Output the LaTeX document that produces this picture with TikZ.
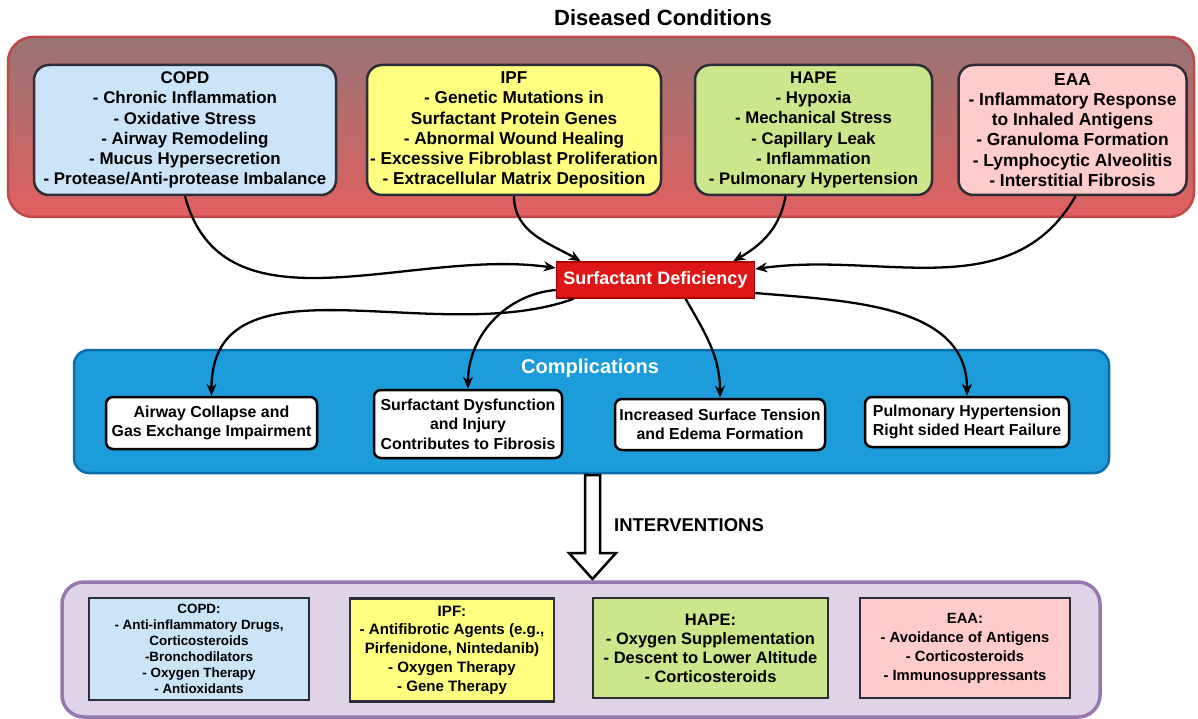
\documentclass[tikz,border=0pt]{standalone}
\usepackage{fontspec}
\setmainfont{Liberation Sans}
\usetikzlibrary{arrows.meta}

\definecolor{copdblue}{RGB}{204,228,247}
\definecolor{ipfyellow}{RGB}{255,255,128}
\definecolor{hapegreen}{RGB}{204,230,140}
\definecolor{eaapink}{RGB}{255,204,204}
\definecolor{boxedge}{RGB}{45,45,55}
\definecolor{distop}{RGB}{152,116,116}
\definecolor{disbottom}{RGB}{226,96,96}
\definecolor{disedge}{RGB}{190,72,72}
\definecolor{sdred}{RGB}{222,22,22}
\definecolor{sdedge}{RGB}{165,0,0}
\definecolor{compblue}{RGB}{28,156,218}
\definecolor{compedge}{RGB}{12,108,168}
\definecolor{intfill}{RGB}{222,211,231}
\definecolor{intedge}{RGB}{150,120,175}

\newcommand{\bfsize}[2]{\fontsize{#1}{#2}\selectfont\bfseries}

\begin{document}
\begin{tikzpicture}[x=1pt,y=-1pt]
\tikzset{
	disbox/.style={draw=boxedge,
		line width=2.5pt,
		rounded corners=15pt,
		align=center,
		inner sep=1pt,
		minimum height=130
	},
	compbox/.style={draw=black, fill=white, line width=2.5pt, rounded corners=7pt,
		align=center, inner sep=1pt, font=\bfsize{15.9}{19.5}},
	treatbox/.style={draw=boxedge, line width=2.5pt, align=center, inner sep=1pt},
	link/.style={-{Stealth[length=12pt,width=10pt]}, line width=2.3pt}
}
\useasboundingbox (0,0) rectangle (1198,719);

% diseased conditions
\node[font=\bfsize{22}{24}] (distitle) at (663,18) {Diseased Conditions};
\node[draw=disedge, line width=2.5pt, rounded corners=25pt, top color=distop, bottom color=disbottom,
	minimum width=1186, minimum height=180] (disease) at (601,127) {};
\node[disbox, fill=copdblue, minimum width=302, font=\bfsize{16.9}{20.2}] (copd) at (185,130)
	{COPD\\- Chronic Inflammation\\- Oxidative Stress\\- Airway Remodeling\\- Mucus Hypersecretion\\- Protease/Anti-protease Imbalance};
\node[disbox, fill=ipfyellow, minimum width=294, font=\bfsize{17.2}{20.2}] (ipf) at (514,130)
	{IPF\\- Genetic Mutations in\\Surfactant Protein Genes\\- Abnormal Wound Healing\\- Excessive Fibroblast Proliferation\\- Extracellular Matrix Deposition};
\node[disbox, fill=hapegreen, minimum width=237, font=\bfsize{16.8}{20.2}] (hape) at (813.5,130)
	{HAPE\\- Hypoxia\\- Mechanical Stress\\- Capillary Leak\\- Inflammation\\- Pulmonary Hypertension};
\node[disbox, fill=eaapink, minimum width=228, font=\bfsize{17.4}{20.2}] (eaa) at (1072.5,130)
	{EAA\\- Inflammatory Response\\to Inhaled Antigens\\- Granuloma Formation\\- Lymphocytic Alveolitis\\- Interstitial Fibrosis};

\node[draw=sdedge, line width=1.5pt, fill=sdred, text=white, font=\bfsize{18}{20},
	minimum width=198, minimum height=36, inner sep=0pt] (sd) at (655.5,280) {Surfactant Deficiency};

\draw[link] (copd.south) to[out=-75, in=172] ([yshift=12pt]sd.west);
\draw[link] (ipf.south) to[out=-90, in=150] ([xshift=25pt]sd.north west);
\draw[link] ([xshift=-28pt]hape.south) to[out=-100, in=30] ([xshift=-22pt]sd.north east);
\draw[link] ([xshift=3pt]eaa.south) to[out=-120, in=8] ([yshift=11pt]sd.east);

% complications
\node[draw=compedge, line width=2.5pt, fill=compblue, rounded corners=15pt,
	minimum width=1035, minimum height=123] (compl) at (591.5,411.5) {};
\node[text=white, font=\bfsize{20}{22}] (compltitle) at (590,368) {Complications};
\node[compbox, minimum width=211, minimum height=52] (airway) at (211.5,423)
	{Airway Collapse and\\Gas Exchange Impairment};
\node[compbox, minimum width=188, minimum height=68] (dysf) at (468,424)
	{Surfactant Dysfunction\\and Injury\\Contributes to Fibrosis};
\node[compbox, minimum width=210, minimum height=51] (tension) at (720,424.5)
	{Increased Surface Tension\\and Edema Formation};
\node[compbox, minimum width=204, minimum height=50] (heart) at (967,422)
	{Pulmonary Hypertension\\Right sided Heart Failure};

\draw[link] ([xshift=18pt]sd.south west) to[out=200, in=90] (airway.north);
\draw[link] ([yshift=-10pt]sd.west) to[out=185, in=90] (dysf.north);
\draw[link] ([xshift=30pt]sd.south) to[out=-60, in=90] (tension.north);
\draw[link] ([yshift=-13pt]sd.east) to[out=-5, in=90] (heart.north);

% interventions
\draw[line width=2.5pt, fill=white, line join=miter] (585,475) -- (585,553) -- (569,553) -- (592.5,579)
	-- (616,553) -- (600,553) -- (600,475) -- cycle;
\node[font=\bfsize{18.5}{20}] (intlabel) at (689,525) {INTERVENTIONS};

\node[draw=intedge, line width=3.5pt, fill=intfill, rounded corners=22pt,
	minimum width=1038, minimum height=135] (interv) at (581,649.5) {};
\node[treatbox, fill=copdblue, minimum width=220, minimum height=102,
	font=\bfsize{13.4}{16.1}] (tcopd) at (199,649)
	{COPD:\\- Anti-inflammatory Drugs,\\Corticosteroids\\-Bronchodilators\\- Oxygen Therapy\\- Antioxidants};
\node[treatbox, fill=ipfyellow, minimum width=204, minimum height=103,
	font=\bfsize{15.1}{18.8}] (tipf) at (452,650)
	{IPF:\\- Antifibrotic Agents (e.g.,\\Pirfenidone, Nintedanib)\\- Oxygen Therapy\\- Gene Therapy};
\node[treatbox, fill=hapegreen, minimum width=235, minimum height=100,
	font=\bfsize{16.5}{19}] (thape) at (710.5,648)
	{HAPE:\\- Oxygen Supplementation\\- Descent to Lower Altitude\\- Corticosteroids};
\node[treatbox, fill=eaapink, minimum width=210, minimum height=100,
	font=\bfsize{14.8}{19}] (teaa) at (965,648)
	{EAA:\\- Avoidance of Antigens\\- Corticosteroids\\- Immunosuppressants};
\end{tikzpicture}
\end{document}
